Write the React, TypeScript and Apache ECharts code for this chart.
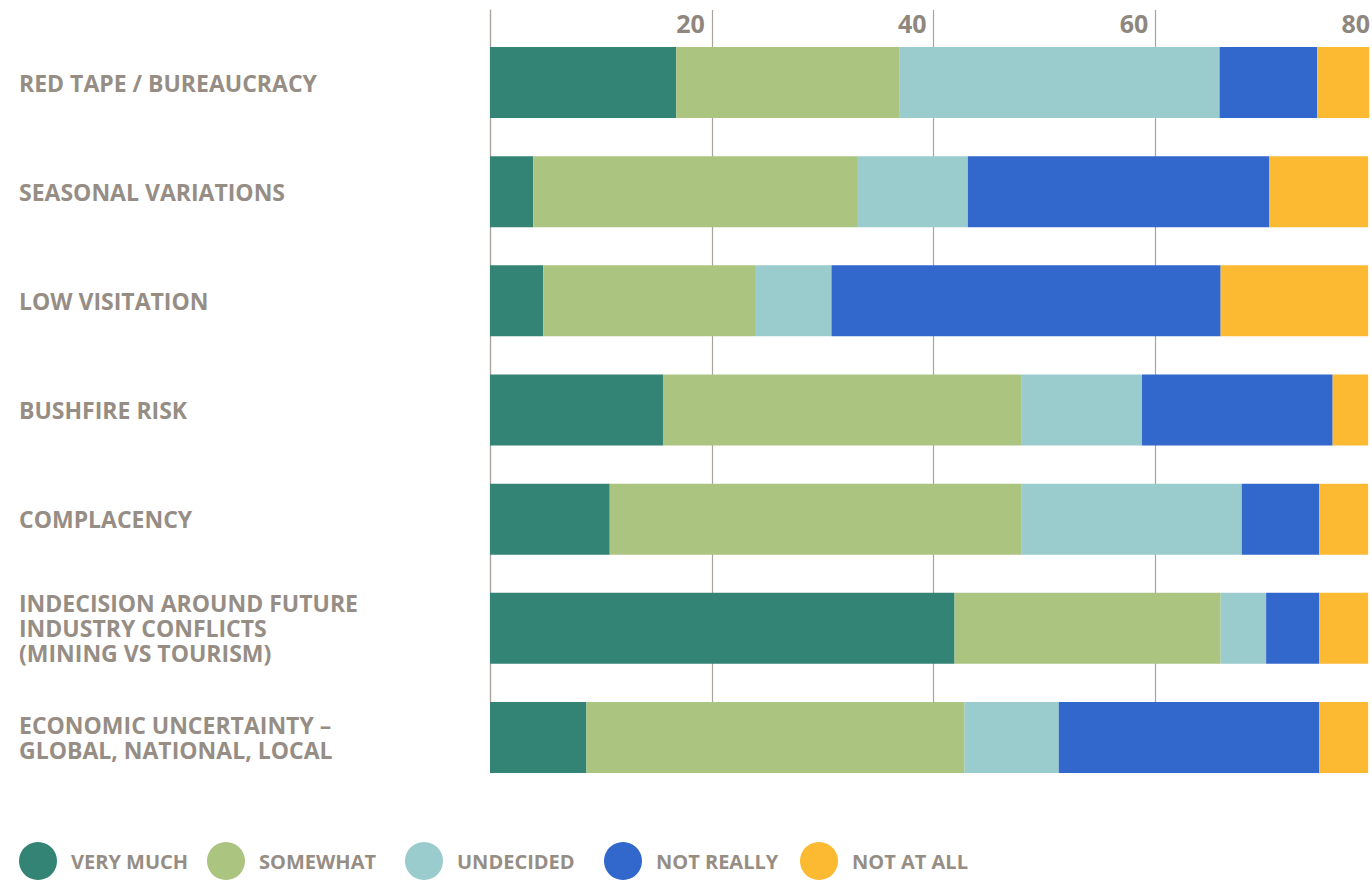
import React, { useEffect, useRef } from "react";
import * as echarts from "echarts";

const CATEGORIES = [
  "RED TAPE / BUREAUCRACY",
  "SEASONAL VARIATIONS",
  "LOW VISITATION",
  "BUSHFIRE RISK",
  "COMPLACENCY",
  "INDECISION AROUND FUTURE\nINDUSTRY CONFLICTS\n(MINING VS TOURISM)",
  "ECONOMIC UNCERTAINTY –\nGLOBAL, NATIONAL, LOCAL",
];

const SERIES_NAMES = ["VERY MUCH", "SOMEWHAT", "UNDECIDED", "NOT REALLY", "NOT AT ALL"];

const VERY_MUCH = [16.8, 3.9, 4.8, 15.6, 10.8, 41.9, 8.7];
const SOMEWHAT = [20.1, 29.2, 19.1, 32.3, 37.1, 24.0, 34.1];
const UNDECIDED = [28.9, 10.0, 6.9, 10.9, 19.9, 4.1, 8.5];
const NOT_REALLY = [8.8, 27.2, 35.1, 17.2, 7.0, 4.8, 23.5];
const NOT_AT_ALL = [4.7, 8.9, 13.3, 3.2, 4.4, 4.4, 4.4];

const X_TICKS = [0, 20, 40, 60, 80];

const COLORS = ["#338474", "#abc480", "#9acbcd", "#3267cc", "#fcb932"];
const VALUES = [VERY_MUCH, SOMEWHAT, UNDECIDED, NOT_REALLY, NOT_AT_ALL];
const LEGEND_LEFT = [19, 207, 405, 604, 800];

const TEXT_COLOR = "#968d85";
const GRID_COLOR = "#aaa39e";
const FONT = "'Open Sans', Lato, sans-serif";

export default function App() {
  const ref = useRef<HTMLDivElement>(null);

  useEffect(() => {
    if (!ref.current) return;
    const chart = echarts.init(ref.current, undefined, { renderer: "svg" });
    const option: any = {
      animation: false,
      backgroundColor: "#ffffff",
      grid: [
        { left: 490, right: 0, top: 28, height: 764 },
        { left: 490, right: 0, top: 10, height: 692 },
      ],
      xAxis: [
        {
          gridIndex: 0,
          type: "value",
          min: X_TICKS[0],
          max: X_TICKS[X_TICKS.length - 1],
          interval: 20,
          axisLine: { show: false },
          axisTick: { show: false },
          axisLabel: { show: false },
          splitLine: { show: false },
        },
        {
          gridIndex: 1,
          type: "value",
          position: "top",
          min: X_TICKS[0],
          max: X_TICKS[X_TICKS.length - 1],
          interval: 20,
          axisLine: { show: false },
          axisTick: { show: false },
          axisLabel: {
            show: true,
            showMinLabel: false,
            showMaxLabel: true,
            margin: -25,
            align: "right",
            padding: [0, 7, 0, 0],
            fontSize: 25,
            fontWeight: "bold",
            fontFamily: FONT,
            color: "#8f867e",
          },
          splitLine: { show: true, lineStyle: { color: GRID_COLOR, width: 1.2 } },
        },
      ],
      yAxis: [
        {
          gridIndex: 0,
          type: "category",
          inverse: true,
          data: CATEGORIES,
          axisLine: { show: false },
          axisTick: { show: false },
          splitLine: { show: false },
          axisLabel: {
            align: "left",
            margin: 471,
            fontSize: 23,
            fontWeight: "bold",
            fontFamily: FONT,
            color: TEXT_COLOR,
            lineHeight: 25,
          },
        },
        {
          gridIndex: 1,
          type: "value",
          min: 0,
          max: 1,
          axisLine: { show: true, lineStyle: { color: GRID_COLOR, width: 1.2 } },
          axisTick: { show: false },
          axisLabel: { show: false },
          splitLine: { show: false },
        },
      ],
      legend: SERIES_NAMES.map((name, i) => ({
        data: [name],
        left: LEGEND_LEFT[i],
        top: 842,
        padding: 0,
        icon: "circle",
        itemWidth: 38,
        itemHeight: 38,
        selectedMode: false,
        textStyle: {
          fontSize: 20,
          fontWeight: "bold",
          fontFamily: FONT,
          color: TEXT_COLOR,
          padding: [0, 0, 0, 9],
        },
      })),
      series: SERIES_NAMES.map((name, i) => ({
        name,
        type: "bar",
        stack: "total",
        xAxisIndex: 0,
        yAxisIndex: 0,
        barWidth: 71,
        itemStyle: { color: COLORS[i] },
        data: VALUES[i],
      })),
    };
    chart.setOption(option);
    return () => chart.dispose();
  }, []);

  return (
    <div
      style={{
        position: "absolute",
        left: 0,
        top: 0,
        width: 1372,
        height: 882,
        overflow: "hidden",
      }}
    >
      <div ref={ref} style={{ width: 1377, height: 882 }} />
    </div>
  );
}
